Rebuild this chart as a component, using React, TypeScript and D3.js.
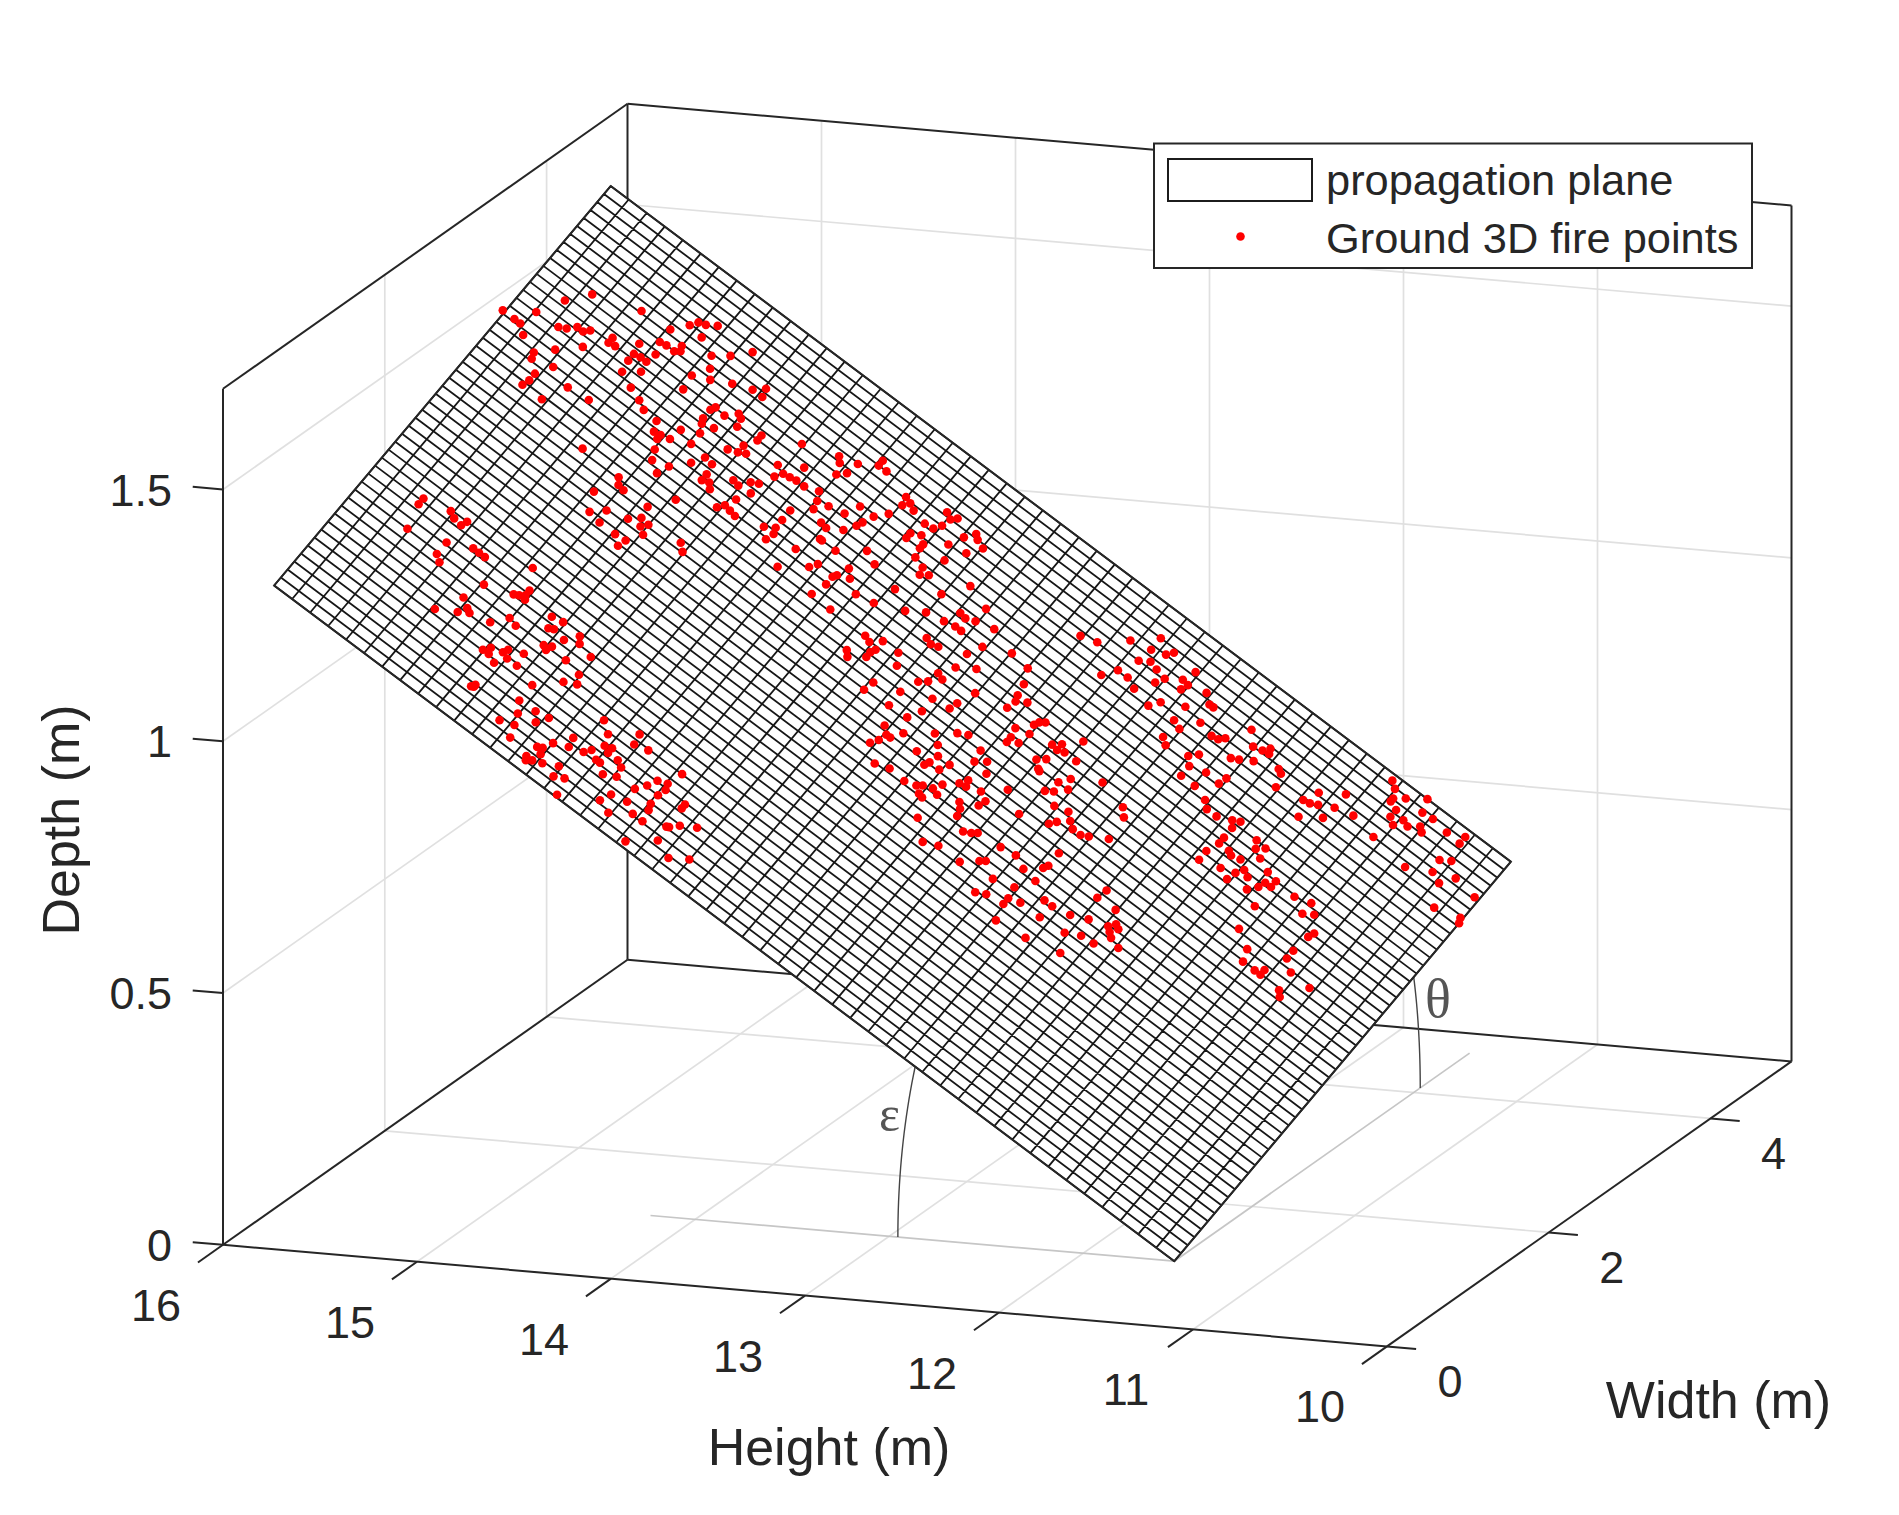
import React from "react";
import * as d3 from "d3";

const heightTicks = [16, 15, 14, 13, 12, 11, 10];
const widthTicks = [0, 2, 4];
const depthTicks = [0, 0.5, 1, 1.5];
const depthTickLabels = ["0", "0.5", "1", "1.5"];
const heightLimits = [16, 10];
const widthLimits = [0, 5];
const depthLimits = [0, 1.7];

// propagation plane: corner, extents, slopes
const planeHeightRange = [11.53, 16.17];
const planeWidthRange = [1.04, 5.2];
const planeSlopeHeight = 0.2556;
const planeSlopeWidth = 0.0775;
const meshCellsHeight = 50;
const meshCellsWidth = 50;

// Fire points: Height (m), Width (m); Depth follows from the plane
const fireHeight = [
16.18,16.07,16.01,15.94,15.74,16.12,16.09,16.05,15.96,15.93,15.90,15.87,15.85,15.83,15.91,15.97,15.96,15.87,15.91,15.91,15.92,15.77,15.82,15.67,15.56,
15.76,15.76,15.73,15.66,15.58,15.65,15.62,15.59,15.65,15.64,15.58,15.60,15.60,15.57,15.52,15.53,15.51,15.55,15.53,15.50,15.46,15.48,15.28,15.40,15.34,15.37,
15.41,15.34,15.26,15.40,15.57,15.51,15.47,15.18,15.14,15.13,15.25,15.26,15.20,15.16,15.14,15.13,15.26,15.25,15.20,15.23,15.30,15.40,15.38,15.35,15.35,
15.31,15.23,15.33,15.31,15.24,15.26,15.18,15.15,15.11,15.10,15.06,15.06,15.03,15.03,15.03,14.90,14.88,14.86,14.83,14.80,15.10,15.10,15.07,15.05,15.00,
14.97,14.94,14.91,14.91,15.37,15.35,15.32,15.41,15.13,14.94,14.96,14.98,14.93,14.90,15.20,15.37,15.32,15.23,15.31,15.19,15.15,15.17,15.14,15.23,15.18,
15.19,15.00,14.97,14.74,14.74,14.78,14.74,14.73,14.74,14.62,14.63,15.93,15.93,15.90,15.81,15.78,15.74,15.73,15.74,15.64,15.61,15.58,15.74,15.71,15.40,
15.51,15.54,15.60,15.52,15.50,15.48,15.39,15.37,15.35,15.35,15.34,15.39,15.34,15.30,15.21,15.16,15.19,15.17,15.11,15.07,15.05,
15.34,15.32,15.31,15.27,15.27,15.26,15.24,15.19,15.20,15.16,15.14,15.13,15.05,14.98,14.97,14.95,15.00,15.09,15.27,15.28,15.27,15.09,15.06,15.01,15.10,
15.04,14.98,14.95,15.02,14.77,14.72,14.62,14.61,14.55,14.82,14.87,14.81,14.91,14.89,14.88,14.92,14.91,14.89,14.85,14.79,14.78,14.74,14.72,14.75,14.73,
14.70,14.67,14.67,14.69,14.67,14.62,14.59,14.63,14.58,14.38,14.44,14.40,14.39,14.46,14.49,14.40,14.55,14.57,14.48,14.40,14.39,14.29,14.29,14.51,14.43,
14.38,14.29,14.28,14.25,14.19,14.38,14.28,14.20,14.13,
14.88,14.81,14.76,14.73,14.71,14.66,14.69,14.65,14.58,14.58,14.54,14.70,14.68,14.67,14.63,14.56,14.53,14.46,14.42,14.41,14.40,14.38,14.35,14.24,14.19,
14.21,14.22,14.24,14.28,14.61,14.58,14.52,14.49,14.48,14.57,14.56,14.30,14.30,14.26,14.23,14.23,14.15,14.12,14.09,14.07,14.03,14.07,14.49,14.39,14.33,
14.22,14.12,14.17,14.16,14.13,14.51,14.53,14.40,14.37,14.42,14.43,14.43,14.45,14.31,14.20,14.04,13.97,14.35,14.23,14.11,14.04,13.86,13.96,13.93,13.90,
13.86,13.91,13.88,13.78,14.17,14.14,14.10,14.10,14.11,14.11,14.19,14.17,14.02,13.99,13.97,13.94,13.91,13.77,13.80,13.66,13.80,13.73,13.57,13.84,13.81,
13.85,13.88,14.02,14.03,13.91,13.79,13.67,13.54,13.53,13.52,13.53,13.48,13.91,13.71,13.70,13.79,13.82,13.87,13.84,13.82,13.85,13.87,13.79,13.69,13.62,
13.58,13.65,13.70,13.62,13.50,13.63,13.64,13.80,13.56,13.58,13.74,13.49,13.45,13.42,13.66,13.61,13.59,13.55,13.53,13.58,13.56,13.52,13.48,13.46,13.45,
13.39,13.31,13.43,13.41,13.36,13.35,13.40,13.52,13.21,13.34,13.31,13.29,
13.45,13.44,13.44,13.40,13.39,13.40,13.39,13.37,13.29,13.26,13.26,13.23,13.20,13.30,13.27,13.17,13.27,13.26,13.03,13.17,13.14,13.12,13.19,13.16,13.12,
13.06,13.03,13.09,13.07,13.00,12.96,12.93,12.90,12.87,12.86,
13.49,13.42,13.32,13.23,13.23,13.17,13.24,13.20,13.16,13.11,13.13,13.28,13.23,13.32,13.18,13.09,13.06,12.96,12.93,
13.44,13.38,13.18,13.11,12.98,13.27,13.21,13.19,13.05,12.99,12.98,13.12,12.98,13.03,13.14,13.10,12.73,12.74,13.02,13.02,12.97,12.90,12.86,12.65,12.87,
12.78,12.71,13.00,12.61,12.63,12.59,12.61,12.59,12.75,12.69,12.63,12.54,12.86,12.71,
13.15,13.03,13.05,13.02,13.03,12.94,12.97,12.90,12.88,12.97,12.93,12.88,12.70,12.81,12.78,12.76,12.65,12.61,12.59,12.58,12.83,12.80,12.69,12.66,12.61,
12.80,12.73,12.80,12.65,12.66,12.73,12.51,12.49,12.47,12.66,12.63,12.58,12.52,12.49,12.50,12.50,12.50,12.52,12.52,12.45,12.43,12.39,12.37,12.34,12.33,
12.39,12.43,12.37,12.35,12.32,12.27,12.38,12.22,12.25,12.26,12.22,12.29,12.12,12.22,12.05,12.05,12.01,12.21,11.97,11.96,12.13,11.98,11.98,12.11,12.05,
12.02,12.02,11.93,11.83,11.92,11.90,
12.32,12.23,12.35,12.32,12.29,12.23,12.32,12.24,12.15,12.03,12.12,12.09,12.07,12.07,12.03,11.96,12.03,11.94,12.03,11.98,12.00,11.95,11.91,11.89,11.89,
11.81,11.74,11.74,11.76,11.72,11.85,11.75,11.66,11.70,11.55,11.65,11.54,11.53,
];
const fireWidth = [
3.89,4.04,4.25,4.42,4.55,3.89,3.89,3.83,4.05,4.08,4.14,4.14,4.18,4.04,3.89,3.77,3.72,3.77,3.64,3.57,3.51,3.71,3.51,3.73,3.39,
4.24,4.19,4.20,4.33,4.34,4.24,4.25,4.25,4.17,4.07,4.16,4.57,4.44,4.45,4.52,4.45,4.48,4.69,4.75,4.77,4.82,4.67,4.82,4.60,4.69,
4.51,4.38,4.44,4.52,4.25,4.01,3.97,3.93,4.58,4.65,4.58,4.29,4.25,4.28,4.36,4.34,4.27,4.16,4.12,4.15,4.05,3.98,3.92,3.84,3.85,
3.81,3.87,3.94,3.73,3.65,3.69,3.59,3.82,3.92,3.91,4.08,4.18,4.11,4.14,4.33,4.28,4.22,4.13,4.19,4.20,4.21,3.82,3.76,3.78,3.74,3.91,
3.90,3.98,4.01,3.91,3.38,3.33,3.32,3.17,3.51,3.80,3.71,3.66,3.70,3.69,3.33,3.02,3.11,3.16,3.00,3.23,3.22,3.17,3.13,3.00,3.01,
2.94,3.26,3.21,3.99,3.89,3.76,3.81,3.76,3.69,3.77,3.57,2.31,2.25,2.04,2.36,2.33,2.32,2.37,2.14,2.23,2.23,2.23,2.02,1.98,2.39,
2.05,1.87,1.66,1.75,1.82,1.80,2.13,2.15,2.18,2.23,2.15,1.84,1.96,1.94,2.17,2.19,2.08,2.10,2.08,2.18,2.13,
1.63,1.68,1.63,1.60,1.71,1.75,1.69,1.69,1.80,1.95,1.93,1.98,1.96,2.10,1.93,1.86,1.81,1.64,1.35,1.34,1.37,1.48,1.39,1.49,1.26,
1.30,1.42,1.51,1.20,1.76,1.69,1.84,1.75,1.78,1.50,1.37,1.42,1.27,1.29,1.24,1.16,1.13,1.16,1.19,1.25,1.16,1.20,1.06,1.46,1.51,
1.60,1.62,1.57,1.47,1.47,1.57,1.54,1.41,1.46,1.79,1.63,1.66,1.61,1.55,1.47,1.54,1.32,1.23,1.35,1.45,1.40,1.61,1.57,1.19,1.30,
1.30,1.38,1.39,1.45,1.52,1.09,1.25,1.19,1.28,
4.47,4.33,4.21,4.57,4.53,4.50,4.44,4.61,4.75,4.70,4.70,4.25,4.18,4.11,4.20,4.23,4.35,4.35,4.44,4.63,4.56,4.61,4.58,4.73,4.74,
4.70,4.62,4.56,4.55,4.06,4.05,4.12,4.21,4.26,3.95,3.95,4.42,4.37,4.46,4.41,4.37,4.53,4.65,4.73,4.70,4.67,4.56,3.95,4.10,4.05,
4.29,4.41,4.26,4.20,4.24,3.78,3.72,3.90,3.84,3.80,3.77,3.69,3.56,3.77,3.99,4.18,4.37,3.55,3.80,3.90,3.99,4.30,4.02,4.15,4.14,
4.17,4.04,4.04,4.21,3.55,3.53,3.60,3.51,3.47,3.42,3.37,3.33,3.60,3.51,3.83,3.81,3.83,4.04,3.92,4.14,3.78,3.87,4.12,3.66,3.64,
3.56,3.51,3.29,3.20,3.36,3.47,3.71,4.00,3.90,3.85,3.77,3.90,3.22,3.49,3.56,3.34,3.23,3.07,3.02,3.02,2.95,2.89,3.11,3.26,3.37,
3.41,3.20,3.06,3.13,3.37,3.05,3.01,2.78,3.13,3.05,2.82,3.27,3.33,3.25,2.81,2.84,2.87,2.90,2.97,2.80,2.79,2.88,3.06,3.12,3.07,
3.11,3.25,2.94,2.90,3.01,3.07,2.84,2.64,3.15,2.77,2.80,2.83,
3.68,3.60,3.55,3.60,3.71,3.79,3.83,3.86,3.75,3.80,3.74,3.76,3.92,3.58,3.63,3.76,3.53,3.52,3.75,3.54,3.62,3.54,3.42,3.46,3.37,
3.40,3.35,3.23,3.28,3.31,3.31,3.34,3.69,3.63,3.42,
4.58,4.62,4.79,4.95,4.83,4.87,4.70,4.75,4.73,4.71,4.64,4.54,4.54,4.43,4.50,4.46,4.54,4.33,4.29,
2.51,2.56,2.85,2.87,3.09,2.56,2.66,2.69,2.82,2.92,2.96,2.61,2.80,2.66,2.44,2.48,3.08,2.99,2.56,2.50,2.59,2.72,2.72,3.00,2.59,
2.75,2.81,2.36,2.91,2.86,2.89,2.83,2.80,2.61,2.67,2.68,2.77,2.39,2.46,
4.92,4.90,4.79,4.78,4.72,4.82,4.63,4.76,4.76,4.49,4.46,4.60,4.80,4.57,4.58,4.62,4.70,4.72,4.77,4.73,4.33,4.39,4.52,4.55,4.61,
4.27,4.31,4.17,4.37,4.30,4.17,4.68,4.66,4.55,4.13,4.08,4.08,4.13,4.16,4.08,3.98,3.92,3.81,3.72,3.92,3.90,4.12,4.06,4.11,4.02,
3.92,3.77,3.81,3.87,3.84,3.97,3.73,3.95,3.89,3.83,3.89,3.76,3.94,3.69,3.98,3.87,3.92,3.47,3.75,3.80,3.38,3.59,3.51,3.28,3.28,
3.33,3.28,3.44,3.43,3.27,3.23,
4.72,4.84,4.60,4.61,4.64,4.70,4.47,4.58,4.74,4.70,5.15,5.11,5.01,5.04,5.10,5.20,4.98,5.09,4.91,4.95,4.87,4.93,4.99,5.10,4.96,
5.08,5.14,5.07,4.87,4.92,4.66,4.76,4.83,4.72,4.80,4.54,4.60,4.56,
];

// Angle annotations
const groundLineHeightEnd = 14.23;
const groundLineWidthEnd = 4.69;
const epsilonRadius = 1.425;
const epsilonEndAngle = 0.355;
const epsilonAspect = 0.688;
const thetaRadius = 3.04;
const thetaEndAngle = 0.23;
const thetaAspect = 0.33;

const legendLabels = ["propagation plane", "Ground 3D fire points"];

// Oblique 3-D projection built from linear scales
const ORIGIN = [223, 1244.8];
const hx = d3.scaleLinear().domain(heightLimits).range([0, 1164]);
const hy = d3.scaleLinear().domain(heightLimits).range([0, 101.6]);
const wx = d3.scaleLinear().domain(widthLimits).range([0, 404.5]);
const wy = d3.scaleLinear().domain(widthLimits).range([0, -285]);
const dy = d3.scaleLinear().domain(depthLimits).range([0, -856]);
const proj = (h: number, w: number, d: number): [number, number] => [
  ORIGIN[0] + hx(h) + wx(w),
  ORIGIN[1] + hy(h) + wy(w) + dy(d),
];
const line = d3.line<[number, number]>();
const seg = (a: number[], b: number[]) => line([proj(a[0], a[1], a[2]), proj(b[0], b[1], b[2])]) as string;

const [h0, h1] = planeHeightRange;
const [w0, w1] = planeWidthRange;
const planeDepth = (h: number, w: number) => planeSlopeHeight * (h - h0) + planeSlopeWidth * (w - w0);
const planePt = (h: number, w: number) => proj(h, w, planeDepth(h, w));

const TEXT = "#262626";
const GRID = "#e0e0e0";
const FONT = "'Liberation Sans', Arial, sans-serif";
const SERIF = "'Liberation Serif', 'Times New Roman', serif";

export default function App() {
  const [hMax, hMin] = heightLimits;
  const [wMin, wMax] = widthLimits;
  const [dMin, dMax] = depthLimits;

  const gridPaths: string[] = [];
  heightTicks.filter((h) => h !== hMax && h !== hMin).forEach((h) => {
    gridPaths.push(seg([h, wMin, dMin], [h, wMax, dMin]));
    gridPaths.push(seg([h, wMax, dMin], [h, wMax, dMax]));
  });
  widthTicks.filter((w) => w !== wMin).forEach((w) => {
    gridPaths.push(seg([hMax, w, dMin], [hMin, w, dMin]));
    gridPaths.push(seg([hMax, w, dMin], [hMax, w, dMax]));
  });
  depthTicks.filter((d) => d !== dMin).forEach((d) => {
    gridPaths.push(seg([hMax, wMin, d], [hMax, wMax, d]));
    gridPaths.push(seg([hMax, wMax, d], [hMin, wMax, d]));
  });

  const boxEdges = [
    [[hMax, wMin, dMin], [hMin, wMin, dMin]],
    [[hMin, wMin, dMin], [hMin, wMax, dMin]],
    [[hMax, wMin, dMin], [hMax, wMax, dMin]],
    [[hMax, wMax, dMin], [hMin, wMax, dMin]],
    [[hMax, wMin, dMin], [hMax, wMin, dMax]],
    [[hMax, wMax, dMin], [hMax, wMax, dMax]],
    [[hMin, wMax, dMin], [hMin, wMax, dMax]],
    [[hMax, wMin, dMax], [hMax, wMax, dMax]],
    [[hMax, wMax, dMax], [hMin, wMax, dMax]],
  ];

  const meshH = d3.range(meshCellsHeight + 1).map((i) => h0 + ((h1 - h0) * i) / meshCellsHeight);
  const meshW = d3.range(meshCellsWidth + 1).map((i) => w0 + ((w1 - w0) * i) / meshCellsWidth);
  const meshPath =
    meshH.map((h) => line([planePt(h, w0), planePt(h, w1)])).join("") +
    meshW.map((w) => line([planePt(h0, w), planePt(h1, w)])).join("");
  const outline = (line([planePt(h0, w0), planePt(h1, w0), planePt(h1, w1), planePt(h0, w1)]) as string) + "Z";

  const epsilonArc = line(
    d3.range(0, 1.001, 0.05).map((f) => {
      const a = f * epsilonEndAngle;
      return proj(h0 + epsilonRadius * Math.cos(a), w0, epsilonRadius * Math.sin(a) * epsilonAspect);
    })
  ) as string;
  const thetaArc = line(
    d3.range(0, 1.001, 0.05).map((f) => {
      const a = f * thetaEndAngle;
      return proj(h0, w0 + thetaRadius * Math.cos(a), thetaRadius * Math.sin(a) * thetaAspect);
    })
  ) as string;

  return (
    <svg
      width={1899}
      height={1515}
      viewBox="0 0 1899 1515"
      style={{ position: "absolute", left: 0, top: 0, display: "block", background: "#fff" }}
    >
      <g fill="none" stroke={GRID} strokeWidth={1.7}>
        {gridPaths.map((d, i) => (
          <path key={i} d={d} />
        ))}
      </g>
      <g fill="none" stroke={TEXT} strokeWidth={2}>
        {boxEdges.map((e, i) => (
          <path key={i} d={seg(e[0], e[1])} />
        ))}
        {heightTicks.map((h) => (
          <path key={h} d={seg([h, wMin, dMin], [h, wMin - 0.31, dMin])} />
        ))}
        {widthTicks.map((w) => (
          <path key={w} d={seg([hMin, w, dMin], [hMin - 0.15, w, dMin])} />
        ))}
        {depthTicks.map((d) => (
          <path key={d} d={seg([hMax, wMin, d], [hMax + 0.156, wMin, d])} />
        ))}
      </g>

      <g fill="none" stroke="#c6c6c6" strokeWidth={1.7}>
        <path d={seg([h0, w0, 0], [groundLineHeightEnd, w0, 0])} />
        <path d={seg([h0, w0, 0], [h0, groundLineWidthEnd, 0])} />
      </g>
      <g fill="none" stroke="#444" strokeWidth={1.4}>
        <path d={epsilonArc} />
        <path d={thetaArc} />
      </g>

      <path d={outline} fill="#fff" />
      <path d={meshPath} fill="none" stroke="#161616" strokeWidth={1.8} />
      <path d={outline} fill="none" stroke="#262626" strokeWidth={2} />

      <g fill="#ff0000">
        {fireHeight.map((h, i) => {
          const [cx, cy] = planePt(h, fireWidth[i]);
          return <circle key={i} cx={cx} cy={cy} r={4.3} />;
        })}
      </g>

      <g fontFamily={FONT} fontSize={45} fill={TEXT}>
        {depthTicks.map((d, i) => (
          <text key={d} x={172} y={proj(hMax, wMin, d)[1] + 16} textAnchor="end">
            {depthTickLabels[i]}
          </text>
        ))}
        {heightTicks.map((h) => {
          const [x, y] = proj(h, wMin, dMin);
          return (
            <text key={h} x={x - 67} y={y + 76} textAnchor="middle">
              {h}
            </text>
          );
        })}
        {widthTicks.map((w) => {
          const [x, y] = proj(hMin, w, dMin);
          return (
            <text key={w} x={x + 63} y={y + 50.5} textAnchor="middle">
              {w}
            </text>
          );
        })}
      </g>
      <g fontFamily={FONT} fontSize={52} fill={TEXT}>
        <text x={829} y={1465} textAnchor="middle">Height (m)</text>
        <text x={1718.5} y={1418} textAnchor="middle">Width (m)</text>
        <text transform="translate(79,820) rotate(-90)" textAnchor="middle">Depth (m)</text>
      </g>

      <g fontFamily={SERIF} fill="#555">
        <text x={879} y={1131} fontSize={50}>ε</text>
        <text x={1425} y={1017} fontSize={54}>θ</text>
      </g>

      <rect x={1154} y={143.5} width={598} height={124.5} fill="#fff" stroke={TEXT} strokeWidth={2} />
      <rect x={1168} y={159} width={144} height={42} fill="#fff" stroke="#1c1c1c" strokeWidth={2} />
      <circle cx={1240.5} cy={236.5} r={4.3} fill="#ff0000" />
      <g fontFamily={FONT} fontSize={43.4} fill={TEXT}>
        <text x={1326} y={195}>{legendLabels[0]}</text>
        <text x={1326} y={253}>{legendLabels[1]}</text>
      </g>
    </svg>
  );
}
